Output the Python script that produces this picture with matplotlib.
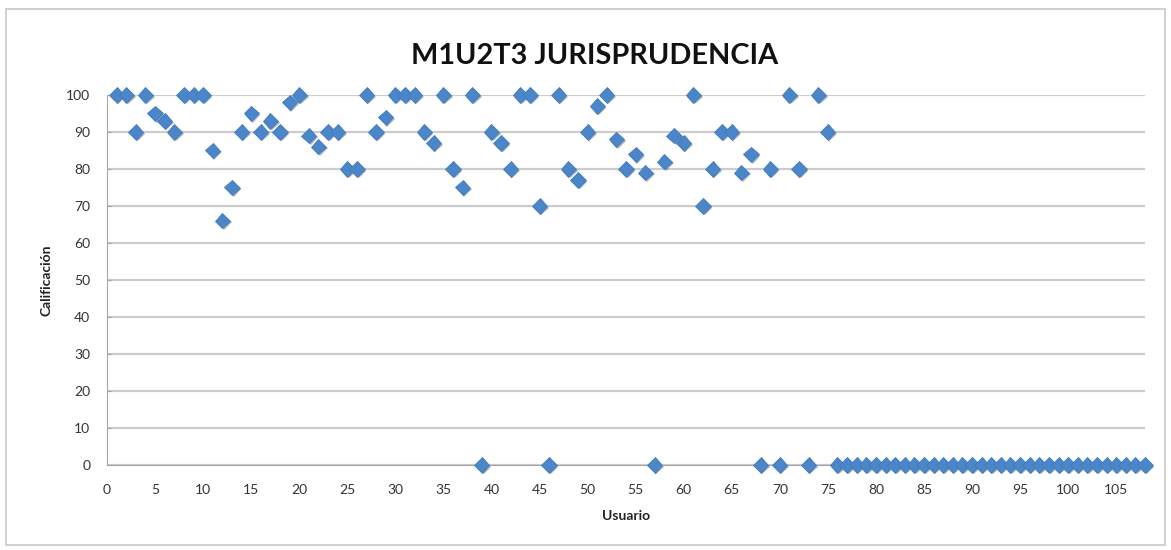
import matplotlib.pyplot as plt
import matplotlib.patheffects as pe
from matplotlib.patches import Rectangle

plt.rcParams['font.family'] = ['Lato', 'DejaVu Sans']

usuarios = list(range(1, 109))
calificacion = [
    100, 100, 90, 100, 95, 93, 90, 100, 100, 100,
    85, 66, 75, 90, 95, 90, 93, 90, 98, 100,
    89, 86, 90, 90, 80, 80, 100, 90, 94, 100,
    100, 100, 90, 87, 100, 80, 75, 100, 0, 90,
    87, 80, 100, 100, 70, 0, 100, 80, 77, 90,
    97, 100, 88, 80, 84, 79, 0, 82, 89, 87,
    100, 70, 80, 90, 90, 79, 84, 0, 80, 0,
    100, 80, 0, 100, 90, 0, 0, 0, 0, 0,
    0, 0, 0, 0, 0, 0, 0, 0, 0, 0,
    0, 0, 0, 0, 0, 0, 0, 0, 0, 0,
    0, 0, 0, 0, 0, 0, 0, 0,
]
x_ticks = list(range(0, 110, 5))
y_ticks = list(range(0, 110, 10))

fig = plt.figure(figsize=(11.71, 5.5), dpi=100)
ax = fig.add_axes([107 / 1171, 85 / 550, (1145 - 107) / 1171, 370 / 550])

# chart border like the spreadsheet chart area
fig.patches.append(Rectangle((6 / 1171, 5 / 550), 1159 / 1171, 536 / 550,
                             transform=fig.transFigure, fill=False,
                             edgecolor='#c8c8c8', linewidth=1.2))

ax.plot(usuarios, calificacion, linestyle='none', marker='D', markersize=7.8,
        color='#4a86c8', markeredgecolor='#3f7bbd', markeredgewidth=0.6,
        clip_on=False, zorder=3,
        path_effects=[pe.SimplePatchShadow(offset=(1.2, -1.2), alpha=0.35),
                      pe.Normal()])

ax.set_xlim(0, 108)
ax.set_ylim(0, 100)
ax.set_xticks(x_ticks)
ax.set_yticks(y_ticks)
ax.yaxis.grid(True, color='#cccccc', linewidth=1.6)
ax.set_axisbelow(True)

for s in ['top', 'right']:
    ax.spines[s].set_visible(False)
ax.spines['left'].set_color('#a6a6a6')
ax.spines['bottom'].set_color('#a6a6a6')
ax.tick_params(axis='both', colors='#a6a6a6', labelcolor='#333333',
               labelsize=10, length=3)
ax.tick_params(axis='x', length=0, pad=14)
ax.tick_params(axis='y', direction='in', pad=12)

ax.set_title('M1U2T3 JURISPRUDENCIA', fontsize=20.8, fontweight='bold',
             color='#111111', pad=22, x=(595 - 107) / 1038)
ax.set_xlabel('Usuario', fontsize=10, fontweight='bold', color='#222222',
              labelpad=10)
ax.set_ylabel('Calificación', fontsize=10, fontweight='bold', color='#222222',
              labelpad=10)

fig.savefig('out.png', dpi=100)
